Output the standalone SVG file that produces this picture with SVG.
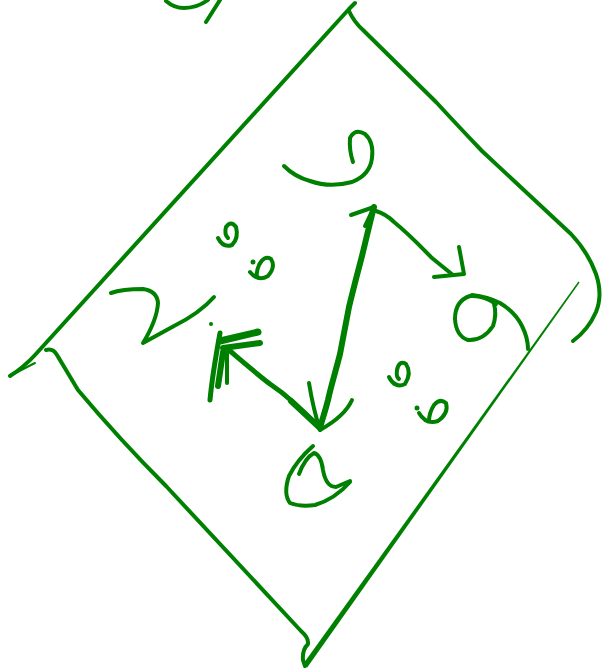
<svg xmlns="http://www.w3.org/2000/svg" width="605" height="668" viewBox="0 0 605 668">
<style>
.ink{fill:none;stroke:#008000;stroke-linecap:round;stroke-linejoin:round}
.w2{stroke-width:2}
.w3{stroke-width:3}
.w4{stroke-width:4}
.w5{stroke-width:5}
.w6{stroke-width:6}
.w7{stroke-width:7}
.dot{fill:#008000}
</style>
<rect width="605" height="668" fill="#ffffff"/>
<g id="frame">
  <path class="ink w4" d="M10,376 Q24,367 35,355 L349,9 L355,3"/>
  <path class="ink w2" d="M12,375 Q25,368 35,363"/>
  <path class="ink w4" d="M349,11 Q354,22 363,30 L436,102 Q460,128 482,151 L571,234 Q588,252 596,274 Q603,295 596,312 Q588,330 573,341"/>
  <path class="ink w4" d="M46,350 Q53,348 57,355 L78,390 Q120,440 166,486 L301,631 Q309,638 308,644 Q302,650 303,660 L305,666"/>
  <polygon fill="#008000" points="307.2,667.6 579.6,282.4 578.4,281.6 302.8,664.4"/>
  <path class="ink w4" d="M166,1 Q174,8 184,8 Q197,8 208,0"/>
  <path class="ink w4" d="M220,0 L206,22"/>
</g>
<g id="glyph-top">
  <path class="ink w4" d="M284,166 Q295,177 310,181 Q330,188 352,182 Q370,175 372,158 Q374,142 365,134 Q355,128 350,138 Q349,150 353,162"/>
</g>
<g id="glyph-left">
  <path class="ink w4" d="M111,293 Q122,289 143,289 Q157,291 158,303 Q157,320 143,343 L174,326 Q200,313 214,297"/>
</g>
<g id="glyph-right">
  <path class="ink w4" d="M496,304 Q484,295 470,296 Q455,301 455,319 Q456,336 468,340 Q483,341 493,326 Q497,314 494,304"/>
  <path class="ink w4" d="M472,295 Q488,297 500,303 Q515,312 522,326 Q528,338 528,349"/>
</g>
<g id="glyph-bottom">
  <path class="ink w4" d="M313,446 Q297,460 289,476 Q283,494 290,503 Q300,507 315,505 Q335,499 350,482"/>
  <path class="ink w4" d="M299,474 Q305,458 314,453 Q321,455 323,470 Q326,487 336,487 L350,481"/>
</g>
<g id="dots-left">
  <path class="ink w4" d="M218,238 Q223,248 232,245 Q239,238 236,227 Q231,220 226,227 Q224,234 228,238"/>
  <path class="ink w4" d="M250,272 Q258,282 268,276 Q276,267 271,259 Q264,255 259,265 Q256,272 257,276"/>
  <circle class="dot" cx="253" cy="262" r="2.5"/>
</g>
<g id="dots-right">
  <path class="ink w4" d="M389,377 Q395,389 405,384 Q412,373 406,364 Q399,360 397,370 Q396,377 399,379"/>
  <path class="ink w4" d="M419,413 Q426,425 438,421 Q449,413 446,403 Q440,398 434,405 Q429,413 429,421"/>
  <circle class="dot" cx="417" cy="408" r="2.5"/>
</g>
<g id="connectors">
  <path class="ink w6" d="M374,207 C370,222 366,240 362,256 C357,275 353,290 349,307 C346,322 343,338 340,354 C336,370 331,386 328,400 C325,412 322,420 320,428"/>
  <path class="ink w4" d="M351,215 L374,207 L365,226"/>
  <path class="ink w4" d="M376,211 Q386,214 394,222 C410,235 420,246 432,258 Q443,267 453,275"/>
  <path class="ink w4" d="M434,277 L464,274 L459,247"/>
  <path class="ink w5" d="M230,351 C243,362 257,374 270,384 Q282,392 293,402 Q306,414 320,428"/>
  <path class="ink w7" d="M220,341 L258,332"/>
  <path class="ink w6" d="M223,348 L260,343"/>
  <path class="ink w5" d="M220,333 C216,355 212,378 210,400"/>
  <path class="ink w6" d="M223,352 L218,386"/>
  <path class="ink w4" d="M227,352 L227,383"/>
  <circle class="dot" cx="211" cy="324" r="2"/>
  <path class="ink w4" d="M309,383 Q313,408 320,430"/>
  <path class="ink w4" d="M352,400 Q345,416 320,430"/>
  <path class="ink w6" d="M291,401 Q305,414 320,428"/>
</g>
</svg>
